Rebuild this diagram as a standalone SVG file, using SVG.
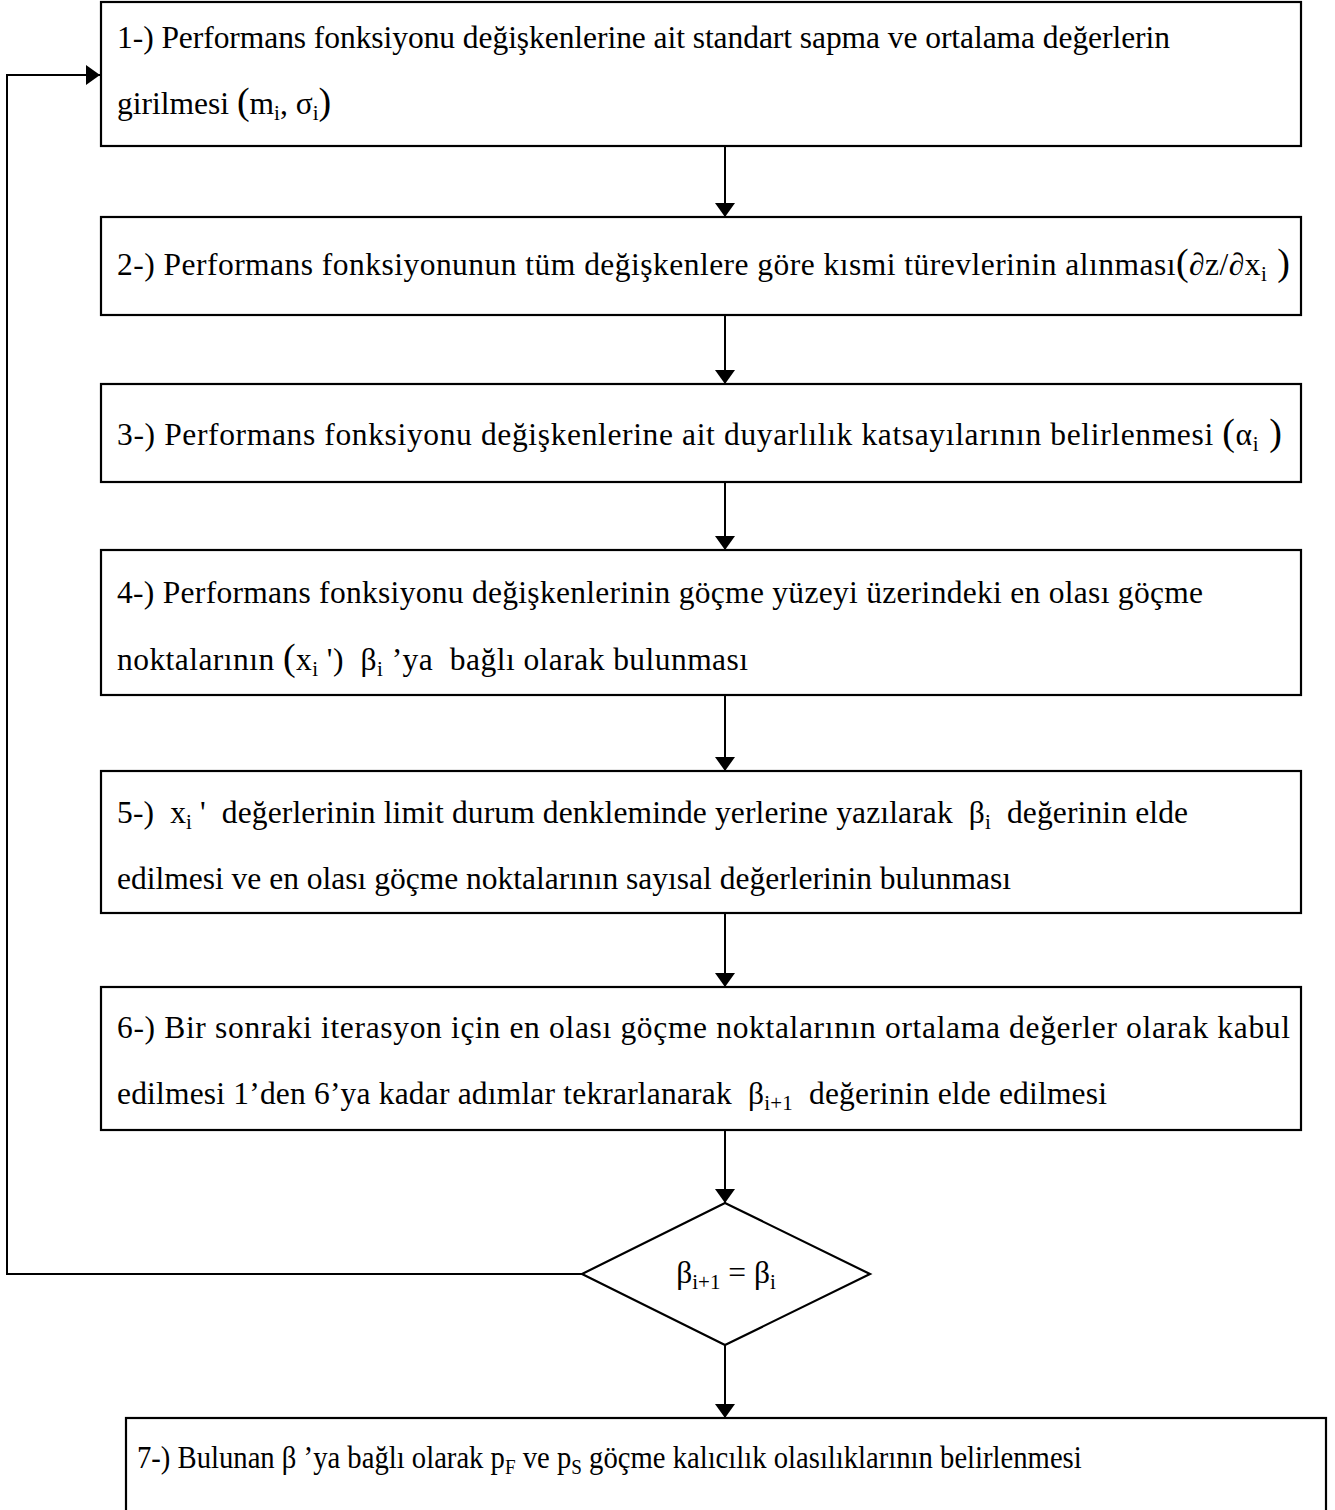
<svg xmlns="http://www.w3.org/2000/svg" width="1335" height="1510" viewBox="0 0 1335 1510">
<style>
.box{fill:#fff;stroke:#000;stroke-width:2.2}
.t{font-family:"Liberation Serif","Times New Roman",serif;font-size:31.5px;fill:#000}
.c{fill:none;stroke:#000;stroke-width:2}
.p{font-size:38px}
.s{font-size:21px}
.it{font-style:italic}
</style>
<defs>
<marker id="ah" viewBox="0 0 14 20" refX="14" refY="10" markerWidth="14" markerHeight="20" markerUnits="userSpaceOnUse" orient="auto">
<path d="M0,0 L14,10 L0,20 Z" fill="#000"/>
</marker>
</defs>
<g id="connectors">
<line class="c" x1="725" y1="146" x2="725" y2="217" marker-end="url(#ah)"/>
<line class="c" x1="725" y1="315" x2="725" y2="384" marker-end="url(#ah)"/>
<line class="c" x1="725" y1="482" x2="725" y2="550" marker-end="url(#ah)"/>
<line class="c" x1="725" y1="695" x2="725" y2="771" marker-end="url(#ah)"/>
<line class="c" x1="725" y1="913" x2="725" y2="987" marker-end="url(#ah)"/>
<line class="c" x1="725" y1="1130" x2="725" y2="1203" marker-end="url(#ah)"/>
<line class="c" x1="725" y1="1345" x2="725" y2="1418" marker-end="url(#ah)"/>
<polyline class="c" points="582,1274 7,1274 7,75 100,75" marker-end="url(#ah)"/>
</g>
<g id="n1">
<rect class="box" x="101" y="2" width="1200" height="144"/>
<text class="t" x="117" y="48" textLength="1053">1-) Performans fonksiyonu değişkenlerine ait standart sapma ve ortalama değerlerin</text>
<text class="t" x="117" y="114" xml:space="preserve">girilmesi <tspan class="p">(</tspan>m<tspan class="s" dy="6">i</tspan><tspan dy="-6">, σ</tspan><tspan class="s" dy="6">i</tspan><tspan class="p" dy="-6">)</tspan></text>
</g>
<g id="n2">
<rect class="box" x="101" y="217" width="1200" height="98"/>
<text class="t" x="117" y="275" textLength="1173">2-) Performans fonksiyonunun tüm değişkenlere göre kısmi türevlerinin alınması<tspan class="p">(</tspan><tspan class="it">∂</tspan>z/<tspan class="it">∂</tspan>x<tspan class="s" dy="6">i</tspan><tspan class="p" dy="-6"> )</tspan></text>
</g>
<g id="n3">
<rect class="box" x="101" y="384" width="1200" height="98"/>
<text class="t" x="117" y="445" textLength="1165" xml:space="preserve">3-) Performans fonksiyonu değişkenlerine ait duyarlılık katsayılarının belirlenmesi <tspan class="p">(</tspan>α<tspan class="s" dy="6">i</tspan><tspan class="p" dy="-6"> )</tspan></text>
</g>
<g id="n4">
<rect class="box" x="101" y="550" width="1200" height="145"/>
<text class="t" x="117" y="603" textLength="1086">4-) Performans fonksiyonu değişkenlerinin göçme yüzeyi üzerindeki en olası göçme</text>
<text class="t" x="117" y="670" textLength="631" xml:space="preserve">noktalarının <tspan class="p">(</tspan>x<tspan class="s" dy="6">i</tspan><tspan dy="-6"> ')</tspan>  β<tspan class="s" dy="6">i</tspan><tspan dy="-6"> ’ya  bağlı olarak bulunması</tspan></text>
</g>
<g id="n5">
<rect class="box" x="101" y="771" width="1200" height="142"/>
<text class="t" x="117" y="823" textLength="1071" xml:space="preserve">5-)  x<tspan class="s" dy="6">i</tspan><tspan dy="-6"> '  değerlerinin limit durum denkleminde yerlerine yazılarak  β</tspan><tspan class="s" dy="6">i</tspan><tspan dy="-6">  değerinin elde</tspan></text>
<text class="t" x="117" y="889">edilmesi ve en olası göçme noktalarının sayısal değerlerinin bulunması</text>
</g>
<g id="n6">
<rect class="box" x="101" y="987" width="1200" height="143"/>
<text class="t" x="117" y="1038" textLength="1173">6-) Bir sonraki iterasyon için en olası göçme noktalarının ortalama değerler olarak kabul</text>
<text class="t" x="117" y="1104" textLength="990" xml:space="preserve">edilmesi 1’den 6’ya kadar adımlar tekrarlanarak  β<tspan class="s" dy="6">i+1</tspan><tspan dy="-6">  değerinin elde edilmesi</tspan></text>
</g>
<g id="d1">
<polygon class="box" points="725,1203 870,1274 725,1345 582,1274"/>
<text class="t" x="726" y="1283" text-anchor="middle" xml:space="preserve">β<tspan class="s" dy="6">i+1</tspan><tspan dy="-6"> = β</tspan><tspan class="s" dy="6">i</tspan></text>
</g>
<g id="n7">
<rect class="box" x="126" y="1418" width="1200" height="100"/>
<text class="t" transform="translate(137,1468) scale(0.91,1)" x="0" y="0" xml:space="preserve">7-) Bulunan β ’ya bağlı olarak p<tspan class="s" dy="6">F</tspan><tspan dy="-6"> ve p</tspan><tspan class="s" dy="6">S</tspan><tspan dy="-6"> göçme kalıcılık olasılıklarının belirlenmesi</tspan></text>
</g>
</svg>
